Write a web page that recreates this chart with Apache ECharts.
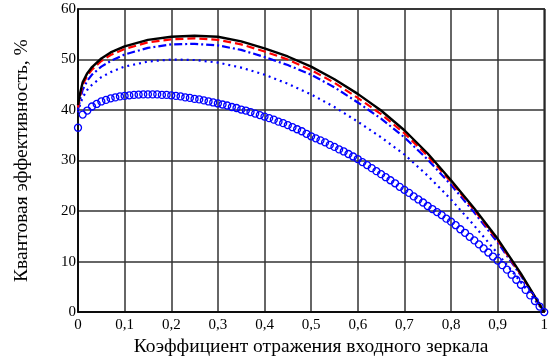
<!DOCTYPE html>
<html><head><meta charset="utf-8">
<script src="https://cdn.jsdelivr.net/npm/echarts@6/dist/echarts.min.js"></script>
<style>html,body{margin:0;padding:0;background:#fff}#c{width:551px;height:362px}</style>
</head><body><div id="c"></div>
<script>
var xTickLabels = ['0','0,1','0,2','0,3','0,4','0,5','0,6','0,7','0,8','0,9','1'];
var lineR = [0,0.005,0.01,0.02,0.03,0.05,0.07,0.1,0.15,0.2,0.25,0.3,0.35,0.4,0.45,0.5,0.55,0.6,0.65,0.7,0.75,0.8,0.85,0.9,0.95,1];
var blackV = [41,43.5,45.5,47.3,48.5,50.2,51.4,52.6,53.9,54.5,54.7,54.5,53.6,52.2,50.6,48.6,46.1,43.2,39.9,36.0,31.4,26.1,20.5,14.5,7.6,0];
var redV   = [40.5,43,45,46.8,48.0,49.7,50.9,52.1,53.4,54.0,54.2,53.9,53.0,51.6,50.0,47.9,45.4,42.4,39.2,35.4,30.9,25.8,20.2,14.2,7.4,0];
var dashDotV = [40,42.2,44.0,45.8,47.0,48.6,49.7,51.0,52.3,53.0,53.1,52.8,51.9,50.5,48.9,47.0,44.5,41.5,38.3,34.6,30.2,25.2,19.7,13.8,7.2,0];
var dottedV = [39.5,41.2,42.5,44.0,45.0,46.5,47.5,48.6,49.6,50.0,49.9,49.4,48.4,47.0,45.2,43.1,40.6,37.7,34.6,31.2,27.0,22.3,17.1,11.6,5.9,0];
var circleR = [];
for (var i = 0; i <= 100; i++) circleR.push(i / 100);
var circleV = [36.5,39.1,39.9,40.7,41.2,41.7,42.0,42.3,42.5,42.7,
  42.8,42.9,43.0,43.05,43.1,43.1,43.1,43.1,43.0,43.0,
  42.9,42.8,42.7,42.5,42.4,42.2,42.1,41.9,41.7,41.5,
  41.3,41.1,40.9,40.6,40.4,40.1,39.9,39.6,39.3,39.0,
  38.7,38.4,38.1,37.7,37.4,37.0,36.6,36.2,35.8,35.3,
  34.8,34.4,34.0,33.6,33.1,32.7,32.2,31.8,31.3,30.8,
  30.3,29.7,29.1,28.5,27.9,27.3,26.7,26.1,25.5,24.8,
  24.2,23.6,22.9,22.3,21.7,21.0,20.4,19.8,19.2,18.5,
  17.9,17.2,16.4,15.7,14.9,14.2,13.4,12.6,11.8,11.0,
  10.2,9.3,8.4,7.4,6.4,5.4,4.4,3.3,2.2,1.1,0];
var yMin = 0, yMax = 60, yStep = 10;

function pairs(xs, ys){ return xs.map(function(x,i){ return [x, ys[i]]; }); }
var font = 'Liberation Serif';
var chart = echarts.init(document.getElementById('c'), null, {renderer:'canvas'});
chart.setOption({
  animation: false,
  grid: {left:78, right:3, top:9, bottom:41, show:true, borderColor:'#000', borderWidth:1.5},
  xAxis: {type:'value', min:0, max:1, interval:0.1,
    name:'Коэффициент отражения входного зеркала', nameLocation:'middle', nameGap:19,
    nameTextStyle:{fontFamily:font, fontSize:19.5, color:'#000'},
    axisLine:{show:true, lineStyle:{color:'#000', width:1.5}},
    axisTick:{show:false},
    axisLabel:{fontFamily:font, fontSize:15, color:'#000', margin:5,
      formatter:function(v){ return xTickLabels[Math.round(v*10)]; }},
    splitLine:{show:true, lineStyle:{color:'#333', width:1.5}}},
  yAxis: {type:'value', min:yMin, max:yMax, interval:yStep,
    name:'Квантовая эффективность, %', nameLocation:'middle', nameGap:46,
    nameTextStyle:{fontFamily:font, fontSize:19.5, color:'#000'},
    axisLine:{show:true, lineStyle:{color:'#000', width:1.5}},
    axisTick:{show:false},
    axisLabel:{fontFamily:font, fontSize:15, color:'#000', margin:2},
    splitLine:{show:true, lineStyle:{color:'#333', width:1.5}}},
  series: [
    {type:'line', data:pairs(circleR, circleV), symbol:'circle', symbolSize:7, showSymbol:true,
      itemStyle:{color:'rgba(0,0,0,0)', borderColor:'#0000ff', borderWidth:1.3},
      lineStyle:{width:0, opacity:0}},
    {type:'line', data:pairs(lineR, dottedV), showSymbol:false,
      lineStyle:{color:'#0000ff', width:2.2, type:[2,4]}},
    {type:'line', data:pairs(lineR, dashDotV), showSymbol:false,
      lineStyle:{color:'#0000ff', width:2.2, type:[8,3,2,3]}},
    {type:'line', data:pairs(lineR, redV), showSymbol:false,
      lineStyle:{color:'#ff0000', width:2.2, type:[8,4]}},
    {type:'line', data:pairs(lineR, blackV), showSymbol:false,
      lineStyle:{color:'#000', width:2.4, type:'solid'}}
  ]
});
</script></body></html>
